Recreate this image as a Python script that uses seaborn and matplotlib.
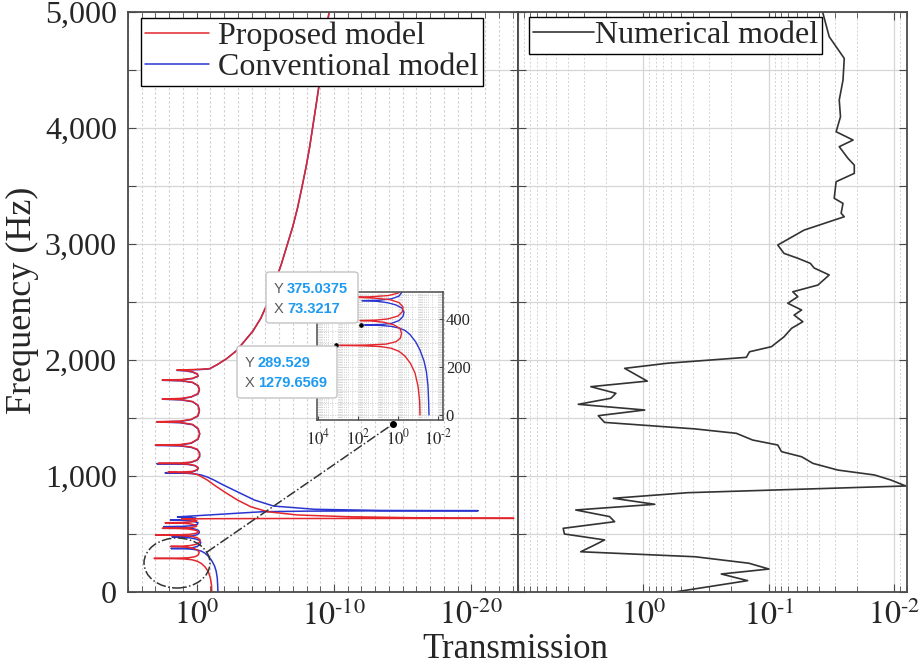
import numpy as np
import pandas as pd
import seaborn as sns
import matplotlib
matplotlib.use("Agg")
import matplotlib.pyplot as plt
from matplotlib.ticker import FixedLocator, FixedFormatter, NullFormatter
from matplotlib.patches import Ellipse, FancyBboxPatch
from matplotlib.lines import Line2D
from matplotlib.mathtext import MathTextParser

# ---------------- data (frequency in Hz, log10 of transmission) ----------------
proposed_curve = [
    (0, -1.1), (60, -1.08), (120, -1.0), (175, -0.85), (215, -0.62), (245, -0.35), (265, -0.05),
    (278, 0.35), (285, 0.9), (288, 1.8), (289.5, 3.1), (291, 1.6), (295, 0.6), (305, 0.1),
    (320, -0.12), (340, -0.18), (360, -0.1), (375, 0.2), (386, 0.7), (391, 1.3), (393, 1.9),
    (395, 1.1), (400, 0.5), (412, 0.0), (430, -0.22), (450, -0.25), (468, -0.05), (480, 0.4),
    (486, 1.1), (489, 1.9), (490.5, 3.0), (492, 1.4), (497, 0.5), (507, 0.0), (520, -0.15),
    (533, 0.1), (543, 0.6), (547, 1.3), (549, 2.5), (551, 1.1), (556, 0.4), (566, 0.0),
    (578, 0.1), (588, 0.5), (594, 1.2), (597, 2.3), (599, 1.1), (604, 0.4), (612, 0.0),
    (620, 0.2), (626, 0.7), (630, 1.1), (632, -1.0), (633.5, -6.0), (634.5, -14.0), (635, -23.1),
    (636, -18.5), (640, -15.9), (649, -11.0), (664, -7.35), (692, -5.16), (735, -3.94),
    (793, -2.97), (865, -2.0), (920, -1.3), (965, -0.78), (990, -0.4), (1010, -0.1),
    (1022, 0.3), (1028, 0.9), (1031, 1.5), (1032, 2.1), (1033, 1.2), (1040, 0.3), (1055, -0.05),
    (1072, -0.1), (1090, 0.1), (1102, 0.6), (1107, 1.4), (1109, 2.8), (1111, 1.3), (1120, 0.4),
    (1140, -0.05), (1170, -0.2), (1200, -0.2), (1230, -0.05), (1250, 0.4), (1262, 1.2),
    (1267, 3.0), (1271, 1.2), (1285, 0.4), (1320, -0.1), (1365, -0.22), (1410, -0.1),
    (1445, 0.3), (1462, 1.2), (1468, 2.9), (1473, 1.2), (1488, 0.4), (1520, -0.1), (1565, -0.2),
    (1610, -0.1), (1642, 0.3), (1658, 1.1), (1664, 2.5), (1669, 1.1), (1683, 0.4), (1710, -0.1),
    (1745, -0.2), (1780, -0.1), (1808, 0.3), (1822, 1.1), (1827, 2.5), (1831, 1.1), (1842, 0.3),
    (1862, -0.1), (1880, -0.05), (1898, 0.3), (1908, 0.8), (1913, 1.44), (1916, 0.6),
    (1920, -0.3), (1926, -0.95), (1960, -1.5), (2013, -2.2), (2080, -2.9), (2158, -3.45),
    (2250, -4.1), (2360, -4.67), (2500, -5.2), (2649, -5.64), (2820, -6.15), (2996, -6.6),
    (3150, -7.0), (3313, -7.35), (3480, -7.65), (3660, -7.96), (3830, -8.22), (4006, -8.45),
    (4200, -8.7), (4382, -8.93), (4600, -9.18), (4815, -9.42), (5000, -9.64),
]

conventional_curve = [
    (0, -1.55), (60, -1.53), (120, -1.5), (180, -1.42), (225, -1.3), (270, -1.1), (305, -0.88),
    (335, -0.6), (352, -0.35), (362, -0.05), (369, 0.35), (373, 0.9), (375, 1.87), (377, 0.8),
    (382, 0.3), (393, -0.05), (410, -0.25), (428, -0.3), (445, -0.2), (458, 0.1), (467, 0.5),
    (473, 1.0), (476, 1.8), (478, 0.9), (484, 0.3), (495, -0.05), (512, -0.2), (530, -0.15),
    (543, 0.15), (553, 0.6), (559, 1.2), (563, 2.4), (566, 1.0), (572, 0.3), (583, -0.05),
    (598, -0.1), (610, 0.3), (617, 0.9), (621, 1.9), (623, 0.8), (628, 0.2), (636, 0.05),
    (642, 0.4), (645, 0.9), (647, 1.4), (649, 1.2), (660, -0.3), (670, -1.7), (680, -3.1),
    (692, -4.8), (697, -8.0), (699.5, -13.0), (701, -20.5), (702, -16.5), (703, -13.4),
    (713, -8.6), (741, -5.6), (793, -4.2), (879, -2.7), (925, -1.9), (965, -1.26), (990, -0.8),
    (1008, -0.35), (1018, 0.1), (1024, 0.8), (1027, 1.6), (1028, 2.3), (1029, 1.3), (1035, 0.3),
    (1052, -0.05), (1070, -0.12), (1088, 0.1), (1099, 0.6), (1104, 1.4), (1106, 2.9),
    (1108, 1.3), (1117, 0.4), (1137, -0.05), (1167, -0.22), (1197, -0.22), (1227, -0.05),
    (1247, 0.4), (1259, 1.2), (1264, 3.0), (1268, 1.2), (1282, 0.4), (1317, -0.1), (1362, -0.22),
    (1407, -0.1), (1442, 0.3), (1459, 1.2), (1466, 2.9), (1471, 1.2), (1486, 0.4), (1518, -0.1),
    (1563, -0.2), (1608, -0.1), (1640, 0.3), (1656, 1.1), (1662, 2.5), (1667, 1.1), (1681, 0.4),
    (1708, -0.1), (1743, -0.2), (1778, -0.1), (1806, 0.3), (1820, 1.1), (1825, 2.5), (1829, 1.1),
    (1840, 0.3), (1860, -0.1), (1878, -0.05), (1896, 0.3), (1906, 0.8), (1911, 1.44), (1914, 0.6),
    (1918, -0.3), (1924, -0.95), (1960, -1.5), (2013, -2.2), (2080, -2.9), (2158, -3.45),
    (2250, -4.1), (2360, -4.67), (2500, -5.2), (2649, -5.64), (2820, -6.15), (2996, -6.6),
    (3150, -7.0), (3313, -7.35), (3480, -7.65), (3660, -7.96), (3830, -8.22), (4006, -8.45),
    (4200, -8.7), (4382, -8.93), (4600, -9.18), (4815, -9.42), (5000, -9.64),
]

numerical_curve = [
    (0, -0.25), (98, -0.83), (155, -0.62), (198, -1.0), (248, -0.84), (304, -0.41), (347, 0.50),
    (405, 0.39), (449, 0.31), (500, 0.63), (549, 0.64), (606, 0.23), (650, 0.27), (707, 0.54),
    (756, -0.09), (808, 0.24), (856, -0.35), (914, -2.09), (966, -1.97), (1009, -1.84),
    (1051, -1.55), (1109, -1.35), (1166, -1.26), (1210, -1.10), (1267, -1.07), (1310, -0.87),
    (1368, -0.74), (1406, -0.41), (1462, 0.31), (1520, 0.36), (1569, -0.01), (1618, 0.52),
    (1670, 0.26), (1713, 0.22), (1770, 0.42), (1818, -0.03), (1928, 0.15), (1972, -0.19),
    (2023, -0.82), (2071, -0.845), (2115, -1.02), (2200, -1.12), (2273, -1.18), (2330, -1.27),
    (2387, -1.20), (2431, -1.26), (2489, -1.15), (2546, -1.23), (2588, -1.19), (2646, -1.39),
    (2733, -1.48), (2793, -1.36), (2833, -1.33), (2877, -1.23), (2919, -1.12), (2991, -1.07),
    (3120, -1.28), (3235, -1.60), (3265, -1.575), (3350, -1.59), (3394, -1.52), (3537, -1.535),
    (3609, -1.68), (3680, -1.68), (3738, -1.63), (3839, -1.56), (3896, -1.67), (3968, -1.535),
    (4097, -1.57), (4241, -1.56), (4413, -1.59), (4600, -1.60), (4787, -1.48), (4990, -1.43),
]

# data tips shown in the inset
tip_freq = [375.0375, 289.529]
tip_trans = [73.3217, 1279.6569]

freq_ticks = [0, 1000, 2000, 3000, 4000, 5000]
freq_ticklabels = ["0", "1,000", "2,000", "3,000", "4,000", "5,000"]
left_xticks = [1e0, 1e-10, 1e-20]
left_xexp = ["0", "-10", "-20"]
right_xticks = [1e0, 1e-1, 1e-2]
right_xexp = ["0", "-1", "-2"]
inset_xticks = [1e4, 1e2, 1e0, 1e-2]
inset_xexp = ["4", "2", "0", "-2"]
inset_yticks = [0, 200, 400]

# power-of-ten labels with a short hyphen in the exponent (MATLAB look)
try:
    MathTextParser("agg").parse(r"$10^{\text{-}2}$", dpi=100)
    HYPH = r"\text{-}"
except Exception:
    HYPH = "\u2010"


def pow10(e):
    return r"$10^{" + e.replace("-", HYPH) + "}$"


def to_frame(curve):
    df = pd.DataFrame(curve, columns=["freq", "logT"])
    df["T"] = 10.0 ** df["logT"]
    return df


df_prop = to_frame(proposed_curve)
df_conv = to_frame(conventional_curve)
df_num = to_frame(numerical_curve)

# ---------------- style ----------------
sns.set_style("ticks")
plt.rcParams["font.family"] = ["Liberation Serif", "DejaVu Serif"]
plt.rcParams["mathtext.fontset"] = "stix"

RED = "#e3262b"
BLUE = "#2a35d0"
SPINE = "#4a4a4a"
GRID = "#d6d6d6"

W, H = 919, 669
fig = plt.figure(figsize=(W / 100, H / 100), dpi=100)


def fx(px):
    return px / W


def fy(py):
    return 1 - py / H


axL = fig.add_axes([fx(128), fy(592), fx(518) - fx(128), fy(12) - fy(592)])
axR = fig.add_axes([fx(518), fy(592), fx(907) - fx(518), fy(12) - fy(592)], sharey=axL)

for ax in (axL, axR):
    ax.set_xscale("log")
    ax.set_axisbelow(True)
    for s in ax.spines.values():
        s.set_color(SPINE)
        s.set_linewidth(1.3)

# ---------------- left panel ----------------
sns.lineplot(data=df_conv, x="T", y="freq", sort=False, estimator=None, color=BLUE,
             lw=1.1, ax=axL, label="Conventional model")
sns.lineplot(data=df_prop, x="T", y="freq", sort=False, estimator=None, color=RED,
             lw=1.1, ax=axL, label="Proposed model")
axL.set_xlim(1e5, 10 ** -23.4)
axL.set_ylim(0, 5000)
axL.xaxis.set_major_locator(FixedLocator(left_xticks))
axL.xaxis.set_major_formatter(FixedFormatter([pow10(e) for e in left_xexp]))
axL.xaxis.set_minor_locator(FixedLocator([10.0 ** k for k in range(5, -24, -1)]))
axL.xaxis.set_minor_formatter(NullFormatter())
axL.yaxis.set_major_locator(FixedLocator(np.arange(0, 5001, 500)))
axL.yaxis.set_major_formatter(FixedFormatter(
    [freq_ticklabels[freq_ticks.index(v)] if v in freq_ticks else "" for v in range(0, 5001, 500)]))
axL.tick_params(axis="both", which="both", direction="in", top=True, right=True,
                color=SPINE, labelsize=23)
axL.tick_params(axis="y", which="major", length=6, pad=8)
axL.tick_params(axis="x", which="major", length=6, pad=6)
axL.tick_params(axis="x", which="minor", length=4)
axL.grid(True, which="major", axis="y", color=GRID, lw=0.9, ls="-")
axL.grid(True, which="minor", axis="x", color="#cfcfcf", lw=0.8, ls=(0, (2, 2)))
axL.grid(True, which="major", axis="x", color="#cfcfcf", lw=0.8, ls=(0, (2, 2)))
axL.set_xlabel("")
axL.set_ylabel("")
h, l = axL.get_legend_handles_labels()
order = [l.index("Proposed model"), l.index("Conventional model")]
legL = axL.legend([h[i] for i in order], [l[i] for i in order], loc="upper left",
                  bbox_to_anchor=((141 - 128) / 390, 1 - (18 - 12) / 580), borderaxespad=0,
                  fontsize=23, frameon=True, fancybox=False, framealpha=1, edgecolor="black",
                  handlelength=2.0, handletextpad=0.3, labelspacing=0.05, borderpad=0.12)
legL.get_frame().set_linewidth(1.0)

# ---------------- right panel ----------------
sns.lineplot(data=df_num, x="T", y="freq", sort=False, estimator=None, color="#333333",
             lw=1.2, ax=axR, label="Numerical model")
axR.set_xlim(1e1, 10 ** -2.1)
axR.xaxis.set_major_locator(FixedLocator(right_xticks + [1e1]))
axR.xaxis.set_major_formatter(FixedFormatter([pow10(e) for e in right_xexp] + [""]))
axR.xaxis.set_minor_locator(FixedLocator([m * 10.0 ** k for k in range(-3, 1) for m in range(2, 10)]))
axR.xaxis.set_minor_formatter(NullFormatter())
axR.tick_params(axis="both", which="both", direction="in", top=True, right=True, left=True,
                color=SPINE, labelsize=23, labelleft=False)
axR.tick_params(axis="y", which="major", length=6)
axR.tick_params(axis="x", which="major", length=6, pad=6)
axR.tick_params(axis="x", which="minor", length=4)
axR.grid(True, which="major", axis="y", color=GRID, lw=0.9, ls="-")
axR.grid(True, which="major", axis="x", color=GRID, lw=0.9, ls="-")
axR.grid(True, which="minor", axis="x", color="#d2d2d2", lw=0.7, ls=(0, (2, 2)))
axR.set_xlabel("")
axR.set_ylabel("")
legR = axR.legend(loc="upper left", bbox_to_anchor=((529 - 518) / 389, 1 - (17 - 12) / 580),
                  borderaxespad=0, fontsize=23, frameon=True, fancybox=False, framealpha=1,
                  edgecolor="black", handlelength=1.9, handletextpad=0.05, borderpad=0.12)
legR.get_frame().set_linewidth(1.0)

# ---------------- inset ----------------
axI = fig.add_axes([fx(317), fy(420), fx(443) - fx(317), fy(292) - fy(420)])
axI.set_xscale("log")
axI.set_facecolor("white")
sns.lineplot(data=df_conv, x="T", y="freq", sort=False, estimator=None, color=BLUE,
             lw=1.0, ax=axI, legend=False)
sns.lineplot(data=df_prop, x="T", y="freq", sort=False, estimator=None, color=RED,
             lw=1.0, ax=axI, legend=False)
sns.scatterplot(x=tip_trans, y=tip_freq, color="black", s=14, ax=axI, zorder=6, legend=False)
axI.set_xlim(10 ** 4.05, 10 ** -2.25)
axI.set_ylim(-21, 512)
axI.xaxis.set_major_locator(FixedLocator(inset_xticks))
axI.xaxis.set_major_formatter(FixedFormatter([pow10(e) for e in inset_xexp]))
axI.xaxis.set_minor_locator(FixedLocator([m * 10.0 ** k for k in range(-3, 5) for m in range(1, 10)]))
axI.xaxis.set_minor_formatter(NullFormatter())
axI.yaxis.tick_right()
axI.yaxis.set_major_locator(FixedLocator(inset_yticks))
axI.yaxis.set_minor_locator(FixedLocator(np.arange(0, 501, 50)))
axI.tick_params(axis="both", which="major", direction="in", labelsize=12, length=3,
                color=SPINE, pad=2)
axI.tick_params(axis="x", which="major", pad=6)
axI.tick_params(axis="both", which="minor", length=0)
axI.grid(True, which="both", color="#d0d0d0", lw=0.6, ls=(0, (1.5, 1.5)))
axI.set_xlabel("")
axI.set_ylabel("")
for s in axI.spines.values():
    s.set_color(SPINE)
    s.set_linewidth(1.1)

# ---------------- annotations ----------------
fig.add_artist(Ellipse((fx(177), fy(563)), 66 / W, 50 / H, transform=fig.transFigure,
                       fill=False, ec="#333333", lw=1.1, ls="-.", zorder=5))
fig.add_artist(Line2D([fx(207), fx(393)], [fy(552), fy(424)], transform=fig.transFigure,
                      color="#333333", lw=1.1, ls="-.", zorder=5))
fig.add_artist(Line2D([fx(393)], [fy(424)], transform=fig.transFigure, color="black",
                      marker="o", ms=4, ls="none", zorder=6))


def datatip(x0, y0, x1, y1, yval, xval):
    fig.add_artist(FancyBboxPatch((fx(x0), fy(y1)), fx(x1) - fx(x0), fy(y0) - fy(y1),
                                  boxstyle="round,pad=0,rounding_size=0.004",
                                  transform=fig.transFigure, fc="white", ec="#c4c4c4",
                                  lw=1.0, zorder=8))
    rows = [("Y", yval, y0 + (y1 - y0) * 0.33), ("X", xval, y0 + (y1 - y0) * 0.72)]
    for lab, val, yy in rows:
        fig.text(fx(x0 + 8), fy(yy), lab, color="#5a5a5a", fontsize=10.5,
                 family="Liberation Sans", va="center", ha="left", zorder=9)
        fig.text(fx(x0 + 21), fy(yy), val, color="#1e9bf0", fontsize=10.5, weight="bold",
                 family="Liberation Sans", va="center", ha="left", zorder=9)


datatip(266, 272, 358, 323, f"{tip_freq[0]:.4f}", f"{tip_trans[0]:.4f}")
datatip(237, 346, 337, 398, f"{tip_freq[1]:.3f}", f"{tip_trans[1]:.4f}")

fig.text(fx(22), fy(300), "Frequency (Hz)", rotation=90, fontsize=26, ha="center", va="center")
fig.text(fx(515), fy(650), "Transmission", fontsize=25, ha="center", va="center")

fig.savefig("out.png", dpi=100)
